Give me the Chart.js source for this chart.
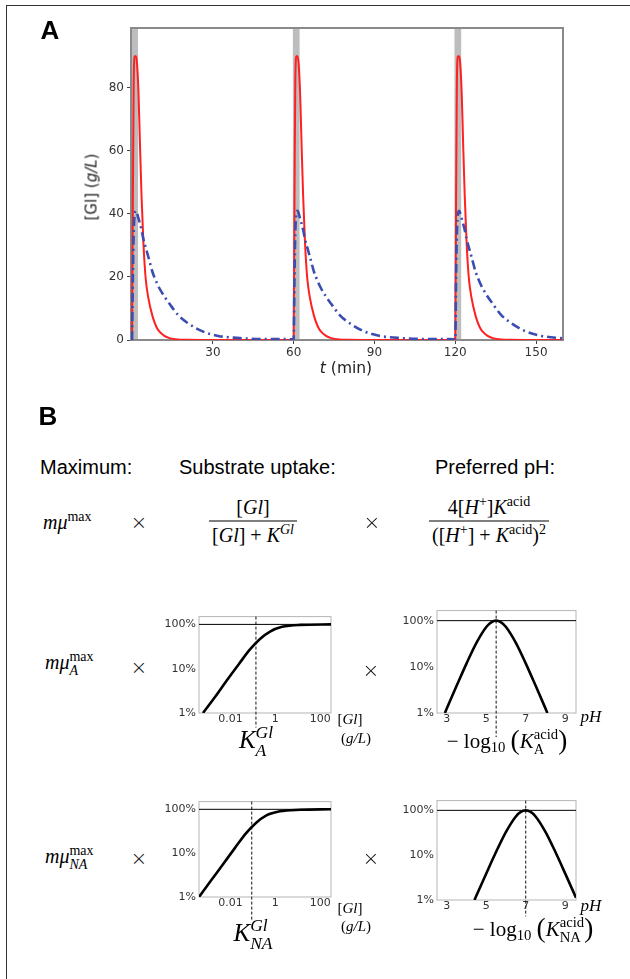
<!DOCTYPE html>
<html>
<head>
<meta charset="utf-8">
<script src="https://cdn.jsdelivr.net/npm/chart.js@4.4.1/dist/chart.umd.min.js"></script>
<style>
  body { margin: 0; width: 630px; height: 979px; background: #fff; position: relative; overflow: hidden; }
  canvas { position: absolute; }
  .frame { position: absolute; left: 6px; top: 5px; width: 640px; height: 990px; border-top: 1.5px solid #333; border-left: 1.5px solid #333; }
  .t { position: absolute; transform: translate(-50%, -50%); white-space: nowrap; line-height: 1; color: #000; }
  .l { position: absolute; transform: translate(0, -50%); white-space: nowrap; line-height: 1; color: #000; }
  .s { font-family: "Liberation Sans", Arial, sans-serif; }
  .d { font-family: "DejaVu Sans", sans-serif; color: #222; }
  .m { font-family: "Liberation Serif", "Times New Roman", serif; }
  .x { font-family: "DejaVu Sans", sans-serif; font-weight: 200; color: #111; font-size: 20px; }
  .sup { font-size: 0.7em; position: relative; top: -0.55em; }
  .sub { font-size: 0.7em; position: relative; top: 0.3em; }
  .ss { display: inline-block; font-size: 0.7em; line-height: 1; vertical-align: -0.4em; text-align: left; }
  .ss > span { display: block; }
  .frac { display: flex; flex-direction: column; align-items: stretch; text-align: center; }
  .frac > div { padding: 0 3px; line-height: 1.35; }
  .frac .den { border-top: 1px solid #000; }
  .big { font-size: 1.3em; position: relative; top: 0.04em; }
</style>
</head>
<body>
<div class="frame"></div>

<canvas id="chartA" width="630" height="380" style="left:0;top:0"></canvas>
<canvas id="upA"></canvas>
<canvas id="phA"></canvas>
<canvas id="upNA"></canvas>
<canvas id="phNA"></canvas>

<!-- panel A texts -->
<div class="t s" style="left:50px;top:30px;font-size:26px;font-weight:bold">A</div>
<div class="t d" style="left:92px;top:187px;font-size:15px;transform:translate(-50%,-50%) rotate(-90deg)">[Gl] (<i>g/L</i>)</div>
<div class="t d" style="left:346px;top:369px;font-size:15.5px"><i>t</i> (min)</div>

<!-- panel B texts -->
<div class="t s" style="left:48px;top:416px;font-size:26px;font-weight:bold">B</div>
<div class="l s" style="left:40px;top:467px;font-size:20px">Maximum:</div>
<div class="l s" style="left:179px;top:467px;font-size:20px">Substrate uptake:</div>
<div class="l s" style="left:435px;top:467px;font-size:20px">Preferred pH:</div>

<div class="l m" style="left:43px;top:522px;font-size:20px"><i>mμ</i><span class="sup">max</span></div>
<div class="t x" style="left:139px;top:522px">×</div>
<div class="t m frac" style="left:253px;top:521px;font-size:20px">
  <div>[<i>Gl</i>]</div>
  <div class="den">[<i>Gl</i>] + <i>K</i><span class="sup"><i>Gl</i></span></div>
</div>
<div class="t x" style="left:372px;top:522px">×</div>
<div class="t m frac" style="left:489px;top:521px;font-size:20px">
  <div>4[<i>H</i><span class="sup">+</span>]<i>K</i><span class="sup">acid</span></div>
  <div class="den">([<i>H</i><span class="sup">+</span>] + <i>K</i><span class="sup">acid</span>)<span class="sup">2</span></div>
</div>

<div class="l m" style="left:45px;top:664px;font-size:20px"><i>mμ</i><span class="ss"><span>max</span><span><i>A</i></span></span></div>
<div class="t x" style="left:139px;top:667px">×</div>
<div class="t x" style="left:371px;top:670px">×</div>
<div class="t m" style="left:350px;top:719px;font-size:15px">[<i>Gl</i>]</div>
<div class="t m" style="left:356px;top:738px;font-size:15px">(<i>g/L</i>)</div>
<div class="t m" style="left:256px;top:741px;font-size:25px"><i>K</i><span class="ss"><span><i>Gl</i></span><span><i>A</i></span></span></div>
<div class="t m" style="left:591px;top:716px;font-size:17px"><i>pH</i></div>
<div class="t m" style="left:507px;top:741px;font-size:21px">− log<span class="sub">10</span> <span class="big">(</span><i>K</i><span class="ss"><span>acid</span><span>A</span></span><span class="big">)</span></div>

<div class="l m" style="left:45px;top:858px;font-size:20px"><i>mμ</i><span class="ss"><span>max</span><span><i>NA</i></span></span></div>
<div class="t x" style="left:139px;top:858px">×</div>
<div class="t x" style="left:371px;top:858px">×</div>
<div class="t m" style="left:350px;top:908px;font-size:15px">[<i>Gl</i>]</div>
<div class="t m" style="left:356px;top:926px;font-size:15px">(<i>g/L</i>)</div>
<div class="t m" style="left:253px;top:934px;font-size:25px"><i>K</i><span class="ss"><span><i>Gl</i></span><span><i>NA</i></span></span></div>
<div class="t m" style="left:591px;top:905px;font-size:17px"><i>pH</i></div>
<div class="t m" style="left:533px;top:929px;font-size:21px">− log<span class="sub">10</span> <span class="big">(</span><i>K</i><span class="ss"><span>acid</span><span>NA</span></span><span class="big">)</span></div>

<script>
// panel A: glucose concentration over time (three feeding cycles)
var timeMin = [
  0, 0.3, 0.6, 1, 1.5, 1.9, 2.4, 2.9, 3.5, 4.2, 5, 6, 7.6, 9, 10.1, 12, 13.9, 17, 20, 26, 32, 40, 50, 59.9,
  60, 60.3, 60.6, 61, 61.5, 61.9, 62.4, 62.9, 63.5, 64.2, 65, 66, 67.6, 69, 70.1, 72, 73.9, 77, 80, 86, 92, 100, 110, 119.9,
  120, 120.3, 120.6, 121, 121.5, 121.9, 122.4, 122.9, 123.5, 124.2, 125, 126, 127.6, 129, 130.1, 132, 133.9, 137, 140, 146, 152, 160
];
var glRed = [
  0, 45, 82, 90, 90, 87, 78, 63, 46, 31, 20, 13.5, 7.5, 4.2, 2.7, 1.3, 0.6, 0.15, 0.05, 0, 0, 0, 0, 0,
  0, 45, 82, 90, 90, 87, 78, 63, 46, 31, 20, 13.5, 7.5, 4.2, 2.7, 1.3, 0.6, 0.15, 0.05, 0, 0, 0, 0, 0,
  0, 45, 82, 90, 90, 87, 78, 63, 46, 31, 20, 13.5, 7.5, 4.2, 2.7, 1.3, 0.6, 0.15, 0.05, 0, 0, 0
];
var glBlue = [
  0, 20, 34, 40, 41, 40, 38.5, 37, 35, 32, 29.5, 26.5, 21.5, 18.5, 16.5, 13.8, 11.5, 8, 5.8, 2.8, 1.3, 0.6, 0.3, 0.2,
  0, 20, 34, 40, 41, 40, 38.5, 37, 35, 32, 29.5, 26.5, 21.5, 18.5, 16.5, 13.8, 11.5, 8, 5.8, 2.8, 1.3, 0.6, 0.3, 0.2,
  0, 20, 34, 40, 41, 40, 38.5, 37, 35, 32, 29.5, 26.5, 21.5, 18.5, 16.5, 13.8, 11.5, 8, 5.8, 2.8, 1.3, 0.5
];
var bandStart = [-0.4, 59.7, 119.7];
var bandEnd = [2.2, 62.2, 122.2];
var xTicksA = [30, 60, 90, 120, 150];
var yTicksA = [0, 20, 40, 60, 80];

// panel B: uptake curves (fraction of max) vs [Gl] in g/L
var glA = [0.0006, 0.00206, 0.007, 0.024, 0.0745, 0.207, 0.58, 1.98, 12.5, 300];
var uptakeA = [0.01, 0.023, 0.055, 0.128, 0.272, 0.47, 0.69, 0.88, 0.975, 1.0];
var glNA = [0.0004, 0.00137, 0.0047, 0.016, 0.049, 0.137, 0.384, 1.6, 12.5, 300];
var uptakeNA = [0.01, 0.0237, 0.056, 0.132, 0.283, 0.49, 0.72, 0.9, 0.975, 1.0];
var kGlA = 0.137;
var kGlNA = 0.089;
var glTicks = [0.01, 1, 100];

// preferred pH curves
var pHA = [2.9, 3, 3.5, 4, 4.5, 5, 5.25, 5.5, 5.75, 6, 6.5, 7, 7.5, 8, 8.1];
var prefA = [0.01, 0.0126, 0.0392, 0.119, 0.331, 0.73, 0.921, 1, 0.921, 0.73, 0.331, 0.119, 0.0392, 0.0126, 0.01];
var pHNA = [4.4, 4.5, 5, 5.5, 6, 6.5, 6.75, 7, 7.25, 7.5, 8, 8.5, 9, 9.55];
var prefNA = [0.01, 0.0126, 0.0392, 0.119, 0.331, 0.73, 0.921, 1, 0.921, 0.73, 0.331, 0.119, 0.0392, 0.0112];
var pKaA = 5.5;
var pKaNA = 7;
var pHTicks = [3, 5, 7, 9];

var pctTicks = [0.01, 0.1, 1];
var pctLabels = ['1%', '10%', '100%'];

function pts(xs, ys) {
  return xs.map(function (x, i) { return { x: x, y: ys[i] }; });
}

var framePlugin = {
  id: 'frame',
  beforeDatasetsDraw: function (chart, args, opts) {
    var a = chart.chartArea, ctx = chart.ctx;
    ctx.save();
    ctx.strokeStyle = opts.color || '#888';
    ctx.lineWidth = opts.width || 1;
    ctx.strokeRect(a.left, a.top, a.right - a.left, a.bottom - a.top);
    ctx.restore();
  }
};

var bandPlugin = {
  id: 'bands',
  beforeDatasetsDraw: function (chart) {
    var a = chart.chartArea, ctx = chart.ctx, x = chart.scales.x;
    ctx.save();
    ctx.beginPath();
    ctx.rect(a.left, a.top, a.right - a.left, a.bottom - a.top);
    ctx.clip();
    ctx.fillStyle = '#bdbdbd';
    for (var i = 0; i < bandStart.length; i++) {
      var x0 = x.getPixelForValue(bandStart[i]);
      var x1 = x.getPixelForValue(bandEnd[i]);
      ctx.fillRect(x0, a.top, x1 - x0, a.bottom - a.top);
    }
    ctx.restore();
  }
};

var tickFont = { family: 'DejaVu Sans', size: 12 };

new Chart(document.getElementById('chartA').getContext('2d'), {
  type: 'line',
  data: {
    datasets: [{
      data: pts(timeMin, glBlue),
      borderColor: '#3b4db0',
      borderWidth: 2.6,
      borderDash: [9, 4, 2, 4],
      pointRadius: 0,
      cubicInterpolationMode: 'monotone'
    }, {
      data: pts(timeMin, glRed),
      borderColor: '#ff2020',
      borderWidth: 2,
      pointRadius: 0,
      cubicInterpolationMode: 'monotone'
    }]
  },
  options: {
    responsive: false,
    animation: false,
    layout: { padding: { top: 28, right: 67, left: 0, bottom: 0 } },
    plugins: { legend: { display: false }, tooltip: { enabled: false }, frame: { color: '#8a8a8a', width: 2 } },
    scales: {
      x: {
        type: 'linear', min: -0.4, max: 160,
        afterFit: function (s) { s.height = 40; },
        afterBuildTicks: function (s) { s.ticks = xTicksA.map(function (v) { return { value: v }; }); },
        grid: { display: true, drawOnChartArea: false, tickLength: 4, color: '#444' },
        border: { display: false },
        ticks: { font: tickFont, color: '#333', padding: 2, maxRotation: 0, autoSkip: false }
      },
      y: {
        type: 'linear', min: 0, max: 99,
        afterFit: function (s) { s.width = 131; },
        afterBuildTicks: function (s) { s.ticks = yTicksA.map(function (v) { return { value: v }; }); },
        grid: { display: true, drawOnChartArea: false, tickLength: 4, color: '#444' },
        border: { display: false },
        ticks: { font: tickFont, color: '#333', padding: 3, autoSkip: false }
      }
    }
  },
  plugins: [bandPlugin, framePlugin]
});

function miniChart(id, box, xOpts, yMax, xs, ys, mark, markLow) {
  var padL = 48, padT = 6, padR = 6, padB = 30;
  var cv = document.getElementById(id);
  cv.width = box.r - box.l + padL + padR;
  cv.height = box.b - box.t + padT + padB;
  cv.style.left = (box.l - padL) + 'px';
  cv.style.top = (box.t - padT) + 'px';
  var xTicks = xOpts.ticks;
  new Chart(cv.getContext('2d'), {
    type: 'line',
    data: {
      datasets: [{
        data: pts(xs, ys),
        borderColor: '#000',
        borderWidth: 2.6,
        pointRadius: 0,
        cubicInterpolationMode: 'monotone'
      }, {
        data: [{ x: xOpts.min, y: 1 }, { x: xOpts.max, y: 1 }],
        borderColor: '#000',
        borderWidth: 1,
        pointRadius: 0
      }, {
        data: [{ x: mark, y: yMax }, { x: mark, y: markLow }],
        borderColor: '#111',
        borderWidth: 1,
        borderDash: [3, 2],
        pointRadius: 0,
        clip: false
      }]
    },
    options: {
      responsive: false,
      animation: false,
      layout: { padding: { top: padT, right: padR, left: 0, bottom: 0 } },
      plugins: { legend: { display: false }, tooltip: { enabled: false }, frame: { color: '#b5b5b5', width: 1 } },
      scales: {
        x: {
          type: xOpts.type, min: xOpts.min, max: xOpts.max,
          afterFit: function (s) { s.height = padB; },
          afterBuildTicks: function (s) { s.ticks = xTicks.map(function (v) { return { value: v }; }); },
          grid: { display: false, tickLength: 0 },
          border: { display: false },
          ticks: {
            font: { family: 'DejaVu Sans', size: 11 }, color: '#333', padding: 0, maxRotation: 0, autoSkip: false,
            callback: function (v) { return String(v); }
          }
        },
        y: {
          type: 'logarithmic', min: 0.01, max: yMax,
          afterFit: function (s) { s.width = padL; },
          afterBuildTicks: function (s) { s.ticks = pctTicks.map(function (v) { return { value: v }; }); },
          grid: { display: false, tickLength: 0 },
          border: { display: false },
          ticks: {
            font: { family: 'DejaVu Sans', size: 11 }, color: '#333', padding: 3, autoSkip: false,
            callback: function (v, i) { return pctLabels[i]; }
          }
        }
      }
    },
    plugins: [framePlugin]
  });
}

var glAxis = { type: 'logarithmic', min: 0.0004, max: 300, ticks: glTicks };
var pHAxis = { type: 'linear', min: 2.5, max: 9.55, ticks: pHTicks };

miniChart('upA', { l: 199, t: 613, r: 331, b: 713 }, glAxis, 1.5, glA, uptakeA, kGlA, 0.0047);
miniChart('phA', { l: 437, t: 607, r: 576, b: 713 }, pHAxis, 1.65, pHA, prefA, pKaA, 0.003);
miniChart('upNA', { l: 199, t: 798, r: 331, b: 897 }, glAxis, 1.5, glNA, uptakeNA, kGlNA, 0.003);
miniChart('phNA', { l: 437, t: 797, r: 576, b: 900 }, pHAxis, 1.65, pHNA, prefNA, pKaNA, 0.0043);
</script>
</body>
</html>
